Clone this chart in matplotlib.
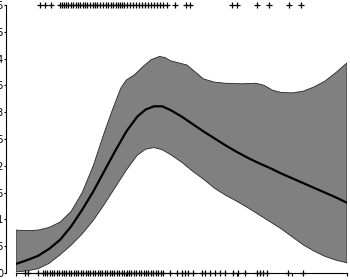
import numpy as np
import matplotlib
matplotlib.use('Agg')
import matplotlib.pyplot as plt

# mean curve
x_mean = [0, 2, 4, 6, 8, 10, 12, 14, 16, 18, 20, 22, 23.5, 25, 26.5, 28, 30,
          32, 34, 36, 38, 40, 42, 44, 46, 48, 50, 52, 54, 56, 58, 60]
y_mean = [0.017, 0.024, 0.032, 0.045, 0.062, 0.087, 0.118, 0.152, 0.190, 0.228,
          0.264, 0.292, 0.305, 0.311, 0.311, 0.304, 0.292, 0.278, 0.264, 0.251,
          0.238, 0.226, 0.215, 0.205, 0.196, 0.186, 0.177, 0.168, 0.159, 0.150,
          0.141, 0.131]

# upper edge of band
x_up = [0, 2, 4, 6, 8, 10, 12, 14, 16, 17.5, 19, 20, 21.5, 23, 24.5, 26, 27,
        28, 29.5, 31, 32.5, 34, 36, 38, 41, 43.5, 45, 46.5, 48, 50, 52, 54, 56,
        58, 60]
y_up = [0.080, 0.079, 0.080, 0.085, 0.095, 0.115, 0.150, 0.200, 0.262, 0.305,
        0.345, 0.360, 0.370, 0.385, 0.398, 0.404, 0.402, 0.396, 0.392, 0.388,
        0.375, 0.362, 0.356, 0.354, 0.353, 0.354, 0.350, 0.341, 0.337, 0.336,
        0.339, 0.347, 0.358, 0.374, 0.392]

# lower edge of band
x_lo = [0, 2, 4, 6, 8, 10, 12, 14, 16, 18, 20, 22, 23.5, 25, 26.5, 28, 30, 32,
        34, 36, 38, 40, 42, 44, 46, 48, 50, 52, 54, 56, 58, 60]
y_lo = [0.002, 0.004, 0.008, 0.018, 0.034, 0.052, 0.073, 0.098, 0.128, 0.160,
        0.192, 0.220, 0.231, 0.234, 0.230, 0.221, 0.207, 0.190, 0.175, 0.158,
        0.145, 0.134, 0.122, 0.109, 0.096, 0.083, 0.068, 0.053, 0.041, 0.031,
        0.024, 0.019]

# rug of events (top) and non-events (bottom)
rug_top = [4.35, 5.26, 6.34, 7.98, 8.34, 8.7, 9.06, 9.43, 9.97, 10.33, 10.88,
           11.24, 11.6, 12.14, 12.51, 12.87, 13.41, 13.96, 14.32, 14.68, 15.23,
           15.77, 16.31, 16.68, 17.22, 17.58, 18.13, 18.49, 18.85, 19.21, 19.58,
           20.12, 20.66, 21.21, 21.75, 22.29, 22.84, 23.38, 23.93, 24.47, 25.01,
           25.56, 26.1, 26.64, 27.37, 28.82, 30.81, 31.54, 39.15, 40.06, 43.68,
           45.86, 49.48, 51.66]
rug_bot = [1.63, 2.18, 3.99, 4.89, 5.26, 5.62, 6.16, 6.53, 6.89, 7.43, 7.79,
           8.34, 8.7, 9.06, 9.61, 9.97, 10.51, 10.88, 11.24, 11.78, 12.14, 12.69,
           13.05, 13.41, 13.96, 14.32, 14.86, 15.23, 15.59, 16.13, 16.49, 17.04,
           17.4, 17.76, 18.31, 18.67, 19.21, 19.58, 20.12, 20.48, 20.85, 21.39,
           21.75, 22.29, 22.66, 23.2, 23.56, 23.93, 24.47, 24.83, 25.38, 25.74,
           26.28, 26.64, 27.91, 29.18, 30.09, 30.63, 31.18, 32.08, 33.71, 34.26,
           35.16, 36.07, 36.98, 37.88, 39.33, 40.24, 41.51, 43.68, 44.23, 44.77,
           45.5, 49.3, 52.02]

y_ticks = [0, 0.05, 0.1, 0.15, 0.2, 0.25, 0.3, 0.35, 0.4, 0.45, 0.5]
y_labels = ['0', '0.05', '0.1', '0.15', '0.2', '0.25', '0.3', '0.35', '0.4', '0.45', '0.5']
x_ticks = [0, 10, 20, 30, 40, 50, 60]

fig = plt.figure(figsize=(3.5, 2.8), dpi=100)
ax = fig.add_axes([16/350, 7/280, 331/350, 268/280])

poly_x = np.r_[x_up, x_lo[::-1]]
poly_y = np.r_[y_up, y_lo[::-1]]
ax.fill(poly_x, poly_y, facecolor='0.5', edgecolor='0.15', lw=0.6, zorder=1)
ax.plot(x_mean, y_mean, color='k', lw=1.6, zorder=2)

ax.plot(rug_top, [0.5]*len(rug_top), '+', color='k', ms=4.5, mew=0.9, clip_on=False, zorder=3)
ax.plot(rug_bot, [0]*len(rug_bot), '+', color='k', ms=4.5, mew=0.9, clip_on=False, zorder=3)

ax.set_xlim(0, 60)
ax.set_ylim(0, 0.5)
ax.set_yticks(y_ticks)
ax.set_yticklabels(y_labels)
ax.set_xticks(x_ticks)

for s in ['top', 'right']:
    ax.spines[s].set_visible(False)
ax.spines['left'].set_position(('outward', 7.0))
ax.spines['left'].set_linewidth(0.8)
ax.spines['bottom'].set_linewidth(0.8)
ax.tick_params(direction='out', width=0.8, labelsize=7)
ax.tick_params(axis='y', length=1.5, pad=0.2)
ax.tick_params(axis='x', length=2.2, pad=2.5)

fig.savefig('out.png', dpi=100)
